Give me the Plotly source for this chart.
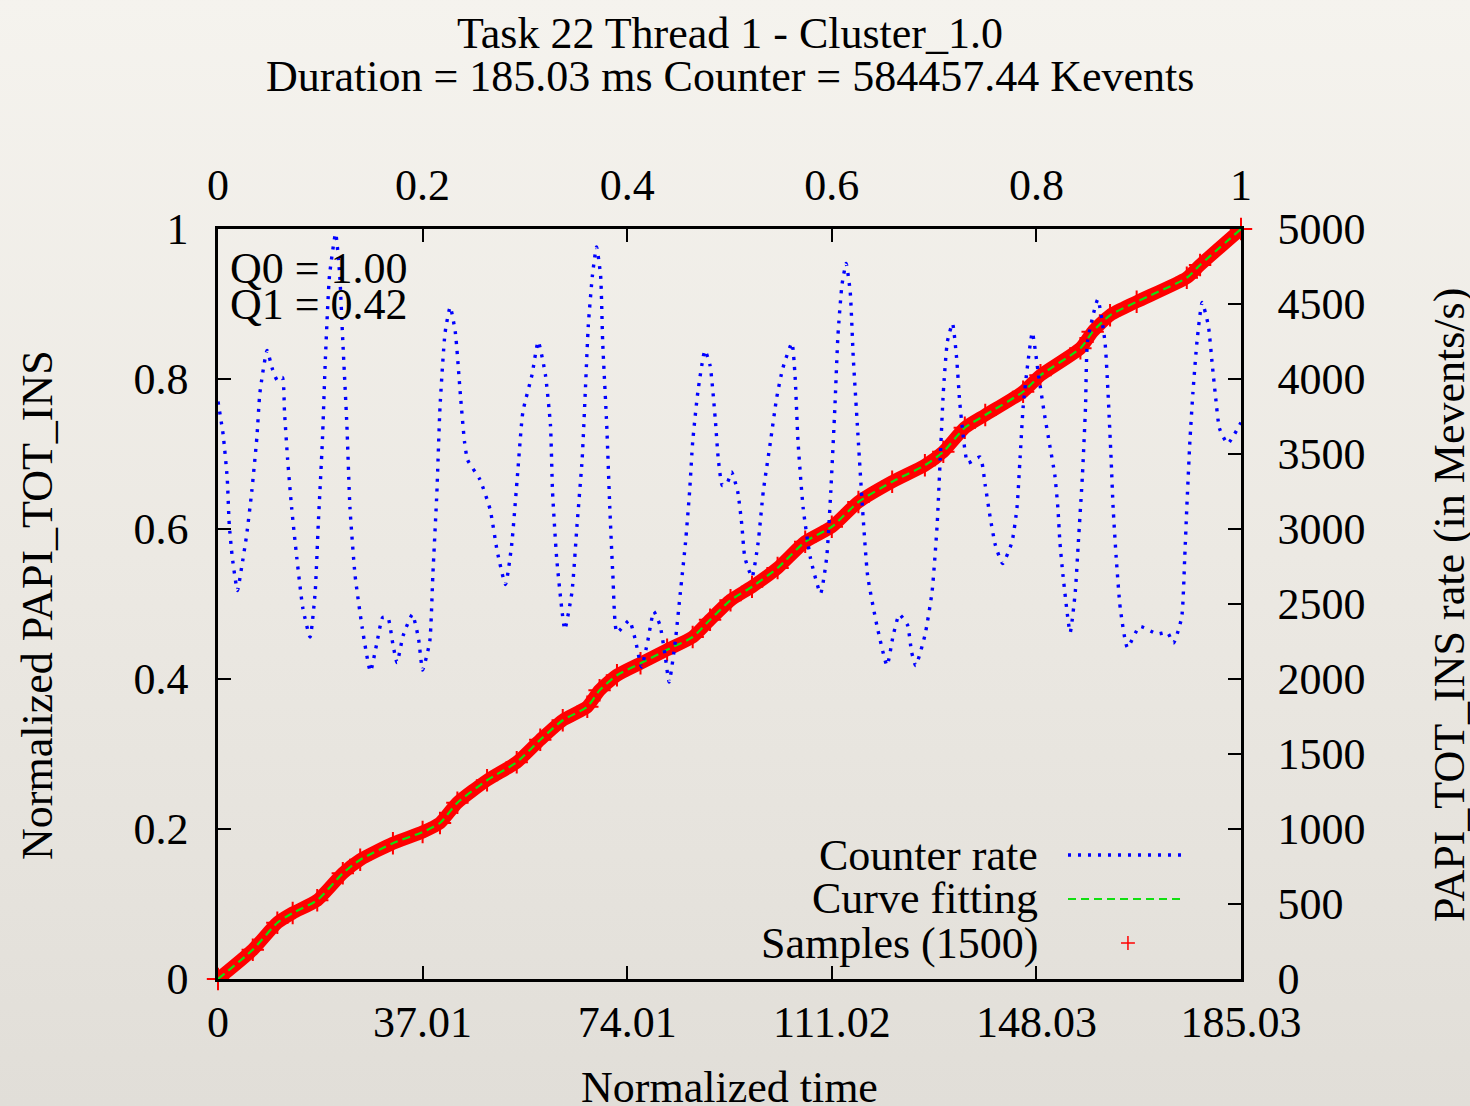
import base64
import plotly.graph_objects as go

# ---------------- data ----------------
duration_ms = 185.03

# Counter rate (Mevents/s) vs normalized time
rate_t = [0.000, 0.005, 0.009, 0.011, 0.014, 0.019, 0.023, 0.028, 0.033, 0.038,
          0.041, 0.048, 0.053, 0.058, 0.063, 0.065, 0.068, 0.072, 0.077, 0.083,
          0.090, 0.095, 0.098, 0.102, 0.105, 0.109, 0.115, 0.119, 0.122, 0.126,
          0.129, 0.134, 0.141, 0.149, 0.155, 0.161, 0.166, 0.171, 0.175, 0.181,
          0.190, 0.196, 0.200, 0.207, 0.210, 0.214, 0.217, 0.222, 0.227, 0.232,
          0.237, 0.241, 0.244, 0.256, 0.266, 0.273, 0.281, 0.287, 0.293, 0.298,
          0.307, 0.313, 0.320, 0.325, 0.327, 0.331, 0.336, 0.339, 0.346, 0.351,
          0.356, 0.359, 0.362, 0.366, 0.370, 0.374, 0.376, 0.380, 0.383, 0.386,
          0.390, 0.402, 0.408, 0.414, 0.420, 0.426, 0.432, 0.437, 0.441, 0.447,
          0.452, 0.457, 0.461, 0.464, 0.469, 0.476, 0.481, 0.486, 0.489, 0.493,
          0.498, 0.502, 0.508, 0.512, 0.515, 0.522, 0.528, 0.533, 0.540, 0.546,
          0.552, 0.561, 0.564, 0.567, 0.572, 0.579, 0.589, 0.595, 0.599, 0.603,
          0.606, 0.610, 0.614, 0.618, 0.621, 0.625, 0.630, 0.635, 0.644, 0.654,
          0.660, 0.666, 0.674, 0.678, 0.682, 0.691, 0.698, 0.703, 0.706, 0.709,
          0.713, 0.718, 0.722, 0.725, 0.728, 0.733, 0.745, 0.750, 0.755, 0.760,
          0.767, 0.776, 0.781, 0.784, 0.787, 0.791, 0.796, 0.802, 0.808, 0.813,
          0.818, 0.821, 0.823, 0.826, 0.833, 0.838, 0.841, 0.845, 0.848, 0.850,
          0.860, 0.867, 0.870, 0.873, 0.875, 0.878, 0.882, 0.889, 0.901, 0.918,
          0.928, 0.934, 0.942, 0.945, 0.947, 0.950, 0.953, 0.957, 0.962, 0.968,
          0.972, 0.975, 0.979, 0.987, 1.000]
rate_val = [3850, 3630, 3340, 3030, 2810, 2590, 2740, 2960, 3250, 3610,
            3910, 4190, 4070, 3990, 4010, 3780, 3470, 3140, 2810, 2470,
            2280, 2580, 3030, 3580, 4140, 4690, 4970, 4690, 4250, 3690,
            3140, 2690, 2340, 2050, 2230, 2410, 2410, 2230, 2110, 2290,
            2430, 2270, 2060, 2250, 2690, 3250, 3810, 4310, 4480, 4310,
            3890, 3580, 3460, 3330, 3130, 2850, 2630, 2890, 3380, 3780,
            4030, 4250, 4030, 3690, 3250, 2810, 2470, 2330, 2580, 3030,
            3470, 3910, 4360, 4690, 4880, 4690, 4250, 3690, 3140, 2690,
            2310, 2390, 2260, 2080, 2250, 2450, 2360, 2160, 1980, 2250,
            2580, 2910, 3250, 3580, 3910, 4190, 4090, 3740, 3470, 3290,
            3310, 3380, 3250, 3030, 2810, 2680, 2910, 3250, 3580, 3870,
            4070, 4240, 4030, 3580, 3140, 2810, 2570, 2810, 3250, 3810,
            4290, 4630, 4770, 4580, 4140, 3690, 3140, 2690, 2360, 2090,
            2290, 2430, 2360, 2180, 2090, 2290, 2580, 3030, 3470, 3910,
            4250, 4370, 4140, 3850, 3650, 3440, 3480, 3290, 3070, 2890,
            2770, 2910, 3140, 3470, 3810, 4070, 4310, 4030, 3760, 3560,
            3360, 3140, 2910, 2690, 2310, 2580, 2910, 3360, 3810, 4250,
            4530, 4250, 3910, 3470, 3140, 2810, 2470, 2210, 2350, 2300,
            2310, 2240, 2410, 2810, 3140, 3580, 3910, 4250, 4510, 4360,
            4090, 3890, 3670, 3570, 3710]

# Normalized cumulative counter (samples / curve fitting)
fit_t = [0.000, 0.034, 0.058, 0.073, 0.097, 0.122, 0.139, 0.171, 0.200, 0.217,
         0.234, 0.263, 0.292, 0.315, 0.337, 0.361, 0.373, 0.390, 0.413, 0.439,
         0.464, 0.481, 0.501, 0.522, 0.547, 0.574, 0.600, 0.626, 0.659, 0.691,
         0.709, 0.730, 0.750, 0.787, 0.804, 0.843, 0.855, 0.872, 0.898, 0.947,
         0.960, 1.000]
fit_val = [0.000, 0.039, 0.075, 0.088, 0.105, 0.141, 0.159, 0.181, 0.196, 0.208,
           0.235, 0.265, 0.289, 0.319, 0.345, 0.363, 0.385, 0.405, 0.421, 0.439,
           0.456, 0.479, 0.505, 0.523, 0.548, 0.583, 0.603, 0.636, 0.663, 0.685,
           0.703, 0.735, 0.752, 0.783, 0.805, 0.841, 0.863, 0.885, 0.903, 0.935,
           0.952, 1.000]

bottom_tickvals = [0, 0.2, 0.4, 0.6, 0.8, 1.0]
bottom_ticktext = ["0", "37.01", "74.01", "111.02", "148.03", "185.03"]
top_ticktext = ["0", "0.2", "0.4", "0.6", "0.8", "1"]
left_tickvals = [0, 0.2, 0.4, 0.6, 0.8, 1.0]
left_ticktext = ["0", "0.2", "0.4", "0.6", "0.8", "1"]
right_tickvals = [0, 500, 1000, 1500, 2000, 2500, 3000, 3500, 4000, 4500, 5000]

title_line1 = "Task 22 Thread 1 - Cluster_1.0"
title_line2 = "Duration = 185.03 ms Counter = 584457.44 Kevents"
q_labels = ["Q0 = 1.00", "Q1 = 0.42"]
legend_labels = ["Counter rate", "Curve fitting", "Samples (1500)"]

# ---------------- figure ----------------
FONT = "Liberation Serif, Times New Roman, serif"
FS = 44
BLUE = "#0000ff"
GREEN = "#11e011"
RED = "#ff0000"

fig = go.Figure()

# Samples band (thick red) + cross markers
fig.add_trace(go.Scatter(
    x=fit_t, y=fit_val, mode="lines", xaxis="x", yaxis="y",
    line=dict(color=RED, width=13, shape="spline", smoothing=0.6),
    showlegend=False, hoverinfo="skip", cliponaxis=False))
fig.add_trace(go.Scatter(
    x=fit_t, y=fit_val, mode="markers", xaxis="x", yaxis="y",
    marker=dict(symbol="cross-thin", size=16, color=RED, line=dict(color=RED, width=2)),
    name=legend_labels[2], showlegend=False, cliponaxis=False))
# Curve fitting (green dashed)
fig.add_trace(go.Scatter(
    x=fit_t, y=fit_val, mode="lines", xaxis="x", yaxis="y",
    line=dict(color=GREEN, width=2.2, dash="8px,5px", shape="spline", smoothing=0.6),
    name=legend_labels[1], showlegend=False))
# Counter rate (blue dotted) on right axis
fig.add_trace(go.Scatter(
    x=rate_t, y=rate_val, mode="lines", xaxis="x", yaxis="y2",
    line=dict(color=BLUE, width=3.4, dash="3px,7px", shape="spline", smoothing=0.5),
    name=legend_labels[0], showlegend=False))
# dummy trace to activate the top axis
fig.add_trace(go.Scatter(x=[0, 1], y=[None, None], xaxis="x2", yaxis="y",
                         mode="lines", showlegend=False, hoverinfo="skip"))

axis_common = dict(showline=True, linecolor="black", linewidth=2.5,
                   ticks="inside", ticklen=13, tickwidth=2, tickcolor="black",
                   showgrid=False, zeroline=False,
                   tickfont=dict(family=FONT, size=FS, color="black"))

fig.update_layout(
    width=1470, height=1106,
    margin=dict(l=218, r=229, t=229, b=127),
    paper_bgcolor="#ebe8e2",
    plot_bgcolor="rgba(0,0,0,0)",
    showlegend=False,
    font=dict(family=FONT, size=FS, color="black"),
    xaxis=dict(range=[0, 1], tickmode="array", tickvals=bottom_tickvals,
               ticktext=bottom_ticktext, ticklabelstandoff=2, **axis_common),
    xaxis2=dict(range=[0, 1], overlaying="x", side="top", tickmode="array",
                tickvals=bottom_tickvals, ticktext=top_ticktext,
                ticklabelstandoff=9, **axis_common),
    yaxis=dict(range=[0, 1], tickmode="array", tickvals=left_tickvals,
               ticktext=left_ticktext, ticklabelstandoff=18, **axis_common),
    yaxis2=dict(range=[0, 5000], overlaying="y", side="right", tickmode="array",
                tickvals=right_tickvals, ticklabelstandoff=25, **axis_common),
)

# background gradient (paper texture approximation)
svg = ('<svg xmlns="http://www.w3.org/2000/svg" width="100" height="100" preserveAspectRatio="none">'
       '<defs><linearGradient id="g" x1="0" y1="0" x2="0" y2="1">'
       '<stop offset="0" stop-color="#f5f3ee"/><stop offset="0.5" stop-color="#ece9e3"/>'
       '<stop offset="1" stop-color="#e1ded8"/></linearGradient></defs>'
       '<rect width="100" height="100" fill="url(#g)"/></svg>')
src = "data:image/svg+xml;base64," + base64.b64encode(svg.encode()).decode()
fig.add_layout_image(dict(source=src, xref="paper", yref="paper",
                          x=-0.2131, y=1.3053, sizex=1.437, sizey=1.4746,
                          sizing="stretch", layer="below", xanchor="left", yanchor="top"))

ann = []
ann.append(dict(text=title_line1, x=0.5, y=1.2613, xref="paper", yref="paper",
                showarrow=False, xanchor="center", yanchor="middle"))
ann.append(dict(text=title_line2, x=0.5, y=1.2027, xref="paper", yref="paper",
                showarrow=False, xanchor="center", yanchor="middle"))
ann.append(dict(text="Normalized time", x=0.5, y=-0.1453, xref="paper", yref="paper",
                showarrow=False, xanchor="center", yanchor="middle"))
ann.append(dict(text="Normalized PAPI_TOT_INS", x=-0.176, y=0.4987, xref="paper",
                yref="paper", showarrow=False, textangle=-90,
                xanchor="center", yanchor="middle"))
ann.append(dict(text="PAPI_TOT_INS rate (in Mevents/s)", x=1.2043, y=0.4987,
                xref="paper", yref="paper", showarrow=False, textangle=-90,
                xanchor="center", yanchor="middle"))
ann.append(dict(text=q_labels[0], x=0.0098, y=0.948, xref="paper", yref="paper",
                showarrow=False, xanchor="left", yanchor="middle"))
ann.append(dict(text=q_labels[1], x=0.0098, y=0.900, xref="paper", yref="paper",
                showarrow=False, xanchor="left", yanchor="middle"))
leg_y = [0.1653, 0.1067, 0.048]
for lbl, yy in zip(legend_labels, leg_y):
    ann.append(dict(text=lbl, x=0.8035, y=yy, xref="paper", yref="paper",
                    showarrow=False, xanchor="right", yanchor="middle"))
fig.update_layout(annotations=ann)

# legend samples
fig.add_shape(type="line", xref="paper", yref="paper", x0=0.8309, x1=0.9433,
              y0=leg_y[0], y1=leg_y[0], line=dict(color=BLUE, width=3.4, dash="3px,7px"))
fig.add_shape(type="line", xref="paper", yref="paper", x0=0.8309, x1=0.9452,
              y0=leg_y[1], y1=leg_y[1], line=dict(color=GREEN, width=2.2, dash="8px,5px"))
fig.add_shape(type="line", xref="paper", yref="paper", x0=0.8827, x1=0.8963,
              y0=leg_y[2], y1=leg_y[2], line=dict(color=RED, width=1.5))
fig.add_shape(type="line", xref="paper", yref="paper", x0=0.8895, x1=0.8895,
              y0=leg_y[2] - 0.0093, y1=leg_y[2] + 0.0093, line=dict(color=RED, width=1.5))

fig.write_html("out.html", config={"displayModeBar": False},
               post_script="document.body.style.margin='0';document.body.style.padding='0';")
